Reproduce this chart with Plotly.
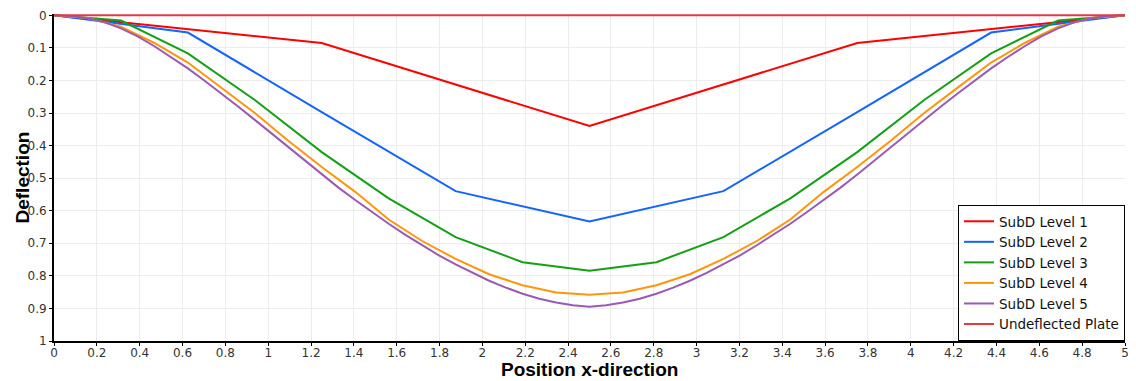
import numpy as np
import plotly.graph_objects as go

# ---- data ----
names = ["SubD Level 1", "SubD Level 2", "SubD Level 3", "SubD Level 4", "SubD Level 5", "Undeflected Plate"]
colors = ["#ff0000", "#1464ff", "#14a014", "#ff960a", "#9b59b6", "#e53b40"]

x_level1 = [0, 1.25, 2.5, 3.75, 5]
y_level1 = [0, 0.085, 0.34, 0.085, 0]

x_level2 = [0, 0.625, 1.25, 1.875, 2.5, 3.125, 3.75, 4.375, 5]
y_level2 = [0, 0.053, 0.297, 0.54, 0.633, 0.54, 0.297, 0.053, 0]

x_level3 = list(np.linspace(0, 5, 17))
y_level3 = [0, 0.016, 0.117, 0.26, 0.42, 0.562, 0.681, 0.758, 0.784,
            0.758, 0.681, 0.562, 0.42, 0.26, 0.117, 0.016, 0]

x_level4 = list(np.linspace(0, 5, 33))
y_level4 = [0, 0.008, 0.035, 0.085, 0.145, 0.222, 0.300, 0.385, 0.466, 0.542, 0.627,
            0.693, 0.748, 0.795, 0.829, 0.851, 0.858,
            0.851, 0.829, 0.795, 0.748, 0.693, 0.627, 0.542, 0.466, 0.385, 0.300,
            0.222, 0.145, 0.085, 0.035, 0.008, 0]

x_level5 = list(np.linspace(0, 5, 65))
y_level5 = [0, 0.002, 0.009, 0.021, 0.040, 0.065, 0.095, 0.128, 0.163, 0.201, 0.240,
            0.280, 0.321, 0.363, 0.405, 0.447, 0.489, 0.529, 0.567, 0.604, 0.640,
            0.674, 0.706, 0.737, 0.765, 0.791, 0.815, 0.836, 0.855, 0.870, 0.882,
            0.890, 0.895,
            0.890, 0.882, 0.870, 0.855, 0.836, 0.815, 0.791, 0.765, 0.737, 0.706,
            0.674, 0.640, 0.604, 0.567, 0.529, 0.489, 0.447, 0.405, 0.363, 0.321,
            0.280, 0.240, 0.201, 0.163, 0.128, 0.095, 0.065, 0.040, 0.021, 0.009,
            0.002, 0]

x_flat = [0, 5]
y_flat = [0, 0]

x_title = "Position x-direction"
y_title = "Deflection"

xs = [x_level1, x_level2, x_level3, x_level4, x_level5, x_flat]
ys = [y_level1, y_level2, y_level3, y_level4, y_level5, y_flat]

fig = go.Figure()
for name, color, x, y in zip(names, colors, xs, ys):
    fig.add_trace(go.Scatter(x=x, y=y, mode="lines", name=name,
                             line=dict(color=color, width=2)))

tick_font = dict(family="DejaVu Sans", size=12, color="#333333")
title_font = dict(family="Liberation Sans", size=19, color="#000000")

# the page body has an 8px margin, so the figure is sized/offset to compensate
fig.update_layout(
    width=1128, height=373,
    margin=dict(l=46, r=11, t=6, b=40, autoexpand=False),
    paper_bgcolor="white", plot_bgcolor="white",
    showlegend=True,
    legend=dict(x=1, y=0, xanchor="right", yanchor="bottom",
                bgcolor="white", bordercolor="black", borderwidth=1,
                font=dict(family="DejaVu Sans", size=13.5, color="#111111"),
                tracegroupgap=0, itemwidth=30),
    xaxis=dict(range=[0, 5], dtick=0.2, tick0=0, automargin=False,
               showgrid=True, gridcolor="#ececec", gridwidth=1,
               zeroline=False, showline=True, linecolor="black", linewidth=2,
               ticks="outside", ticklen=3, tickcolor="black", tickwidth=1,
               ticklabelstandoff=-3, tickfont=tick_font),
    yaxis=dict(range=[1.0, -0.004], dtick=0.1, tick0=0, automargin=False,
               showgrid=True, gridcolor="#ececec", gridwidth=1,
               zeroline=False, showline=True, linecolor="black", linewidth=2,
               ticks="outside", ticklen=3, tickcolor="black", tickwidth=1,
               ticklabelstandoff=0, tickfont=tick_font),
    annotations=[
        dict(text="<b>" + x_title + "</b>", xref="paper", yref="paper",
             x=0.5, y=0, xanchor="center", yanchor="middle", yshift=-28,
             showarrow=False, font=title_font),
        dict(text="<b>" + y_title + "</b>", xref="paper", yref="paper",
             x=0, y=0.5, xanchor="center", yanchor="middle", xshift=-32,
             textangle=-90, showarrow=False, font=title_font),
    ],
)

fig.write_html("out.html")
